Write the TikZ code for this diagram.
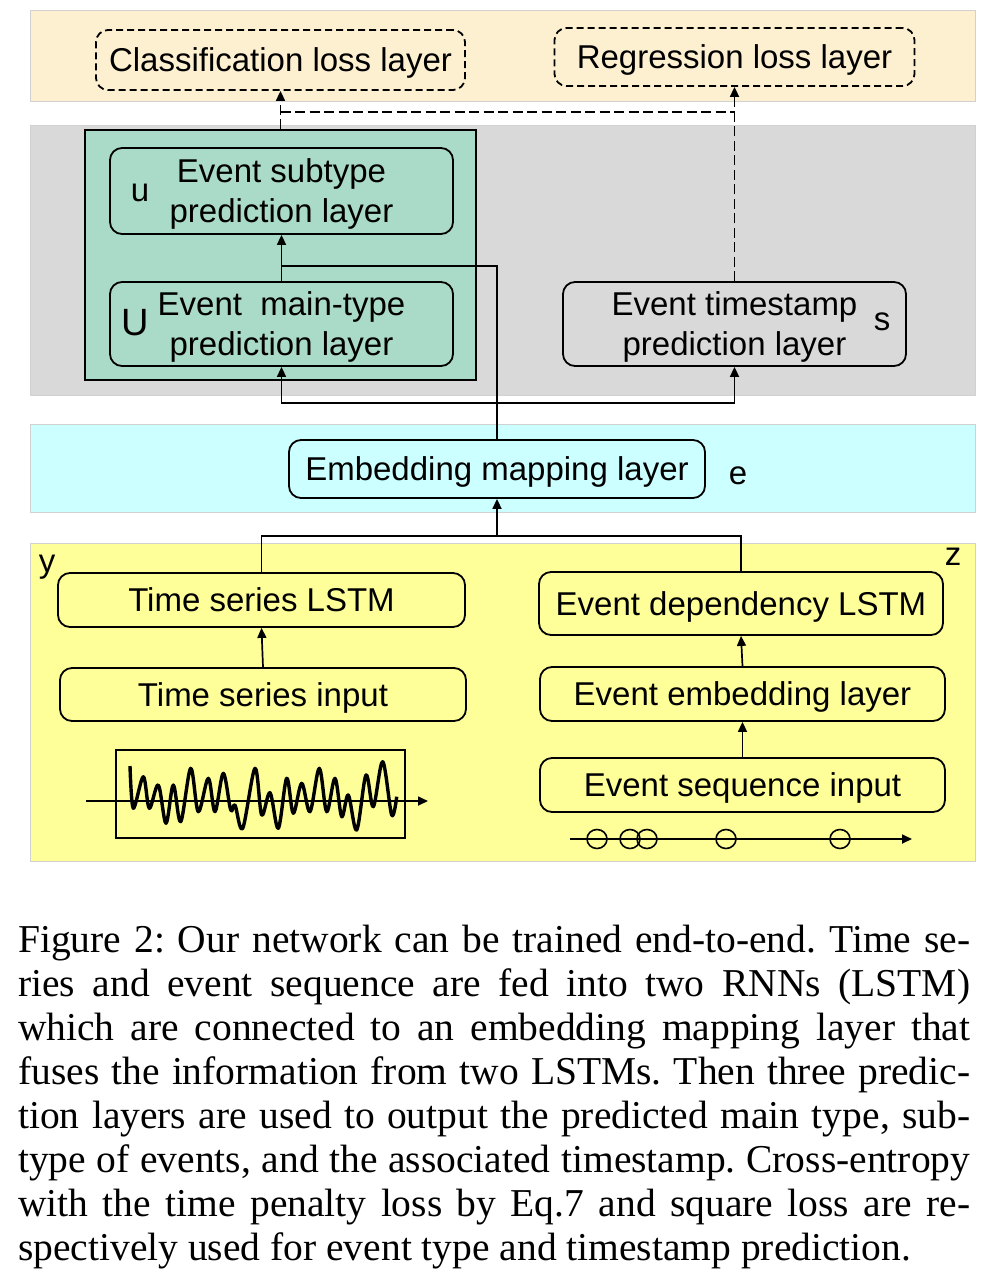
\documentclass[tikz,border=0pt]{standalone}
\usepackage{fontspec}
\setmainfont{Liberation Sans}
\newfontfamily\capfont{Liberation Serif}
\usetikzlibrary{arrows.meta}
\frenchspacing
\definecolor{beigeband}{RGB}{253,240,208}
\definecolor{grayband}{RGB}{217,217,217}
\definecolor{cyanband}{RGB}{204,255,255}
\definecolor{yellowband}{RGB}{255,255,153}
\definecolor{greenbox}{RGB}{170,218,200}
\newcommand\diagfont{\fontsize{33}{40}\selectfont}
\newcommand\captionfont{\capfont\fontsize{39.5}{44}\selectfont\frenchspacing}
\begin{document}
\begin{tikzpicture}[x=1pt,y=-1pt,
  band/.style={draw=black!18, line width=0.8pt},
  layerbox/.style={draw, line width=1.8pt, rounded corners=12pt, inner sep=0pt, align=center, font=\diagfont, text depth=0pt},
  lossbox/.style={layerbox, dash pattern=on 7pt off 4pt},
  wire/.style={line width=1.7pt},
  conn/.style={wire, -{Triangle[length=10pt,width=9pt]}},
  dconn/.style={conn, dash pattern=on 10pt off 4.5pt},
  dwire/.style={wire, dash pattern=on 10pt off 4.5pt},
  lbl/.style={inner sep=0pt, font=\diagfont},
  capline/.style={anchor=base west, inner sep=0pt, font=\captionfont}
]
\useasboundingbox (0,0) rectangle (992,1280);
\fill[white] (0,0) rectangle (992,1280);

% bands
\filldraw[band, fill=beigeband] (30,10) rectangle (975,101);
\filldraw[band, fill=grayband] (30,125) rectangle (975,395);
\filldraw[band, fill=cyanband] (30,424) rectangle (975,512);
\filldraw[band, fill=yellowband] (30,543) rectangle (975,861);

% loss layers
\node[lossbox, minimum width=369pt, minimum height=60pt] (cls) at (280.5,60) {Classification loss layer};
\node[lossbox, minimum width=360pt, minimum height=58pt] (reg) at (734.5,57) {Regression loss layer};

% prediction group
\node[draw, line width=1.8pt, fill=greenbox, inner sep=0pt, minimum width=391pt, minimum height=250pt] (grp) at (280.5,255) {};
\node[layerbox, minimum width=343pt, minimum height=86pt] (sub) at (281.5,191) {Event subtype\\prediction layer};
\node[layerbox, minimum width=343pt, minimum height=84pt] (main) at (281.5,324) {Event\ \ main-type\\prediction layer};
\node[layerbox, minimum width=343pt, minimum height=84pt] (ts) at (734.5,324) {Event timestamp\\prediction layer};
\node[lbl] (lu) at (140,193) {u};
\node[lbl, font=\fontsize{38}{40}\selectfont] (lU) at (135,323) {U};
\node[lbl] (ls) at (882,322) {s};

% embedding
\node[layerbox, minimum width=416pt, minimum height=58pt] (emb) at (497,469) {Embedding mapping layer};
\node[lbl] (le) at (738,476) {e};

% LSTMs
\node[layerbox, minimum width=407pt, minimum height=54pt] (tsl) at (261.5,600) {Time series LSTM};
\node[layerbox, minimum width=406pt, minimum height=53pt] (tsi) at (263,694.5) {Time series input};
\node[layerbox, minimum width=404pt, minimum height=63pt] (edl) at (741,603.5) {Event dependency LSTM};
\node[layerbox, minimum width=405pt, minimum height=54pt] (eel) at (742.5,694) {Event embedding layer};
\node[layerbox, minimum width=405pt, minimum height=54pt] (esi) at (742.5,785) {Event sequence input};
\node[lbl] (ly) at (47,567) {y};
\node[lbl] (lz) at (953,557) {z};

% connectors bottom
\coordinate (j1) at (497,536);
\draw[wire] (tsl.north) |- (j1) -| (edl.north);
\draw[conn] (j1) -- (emb.south);
\draw[conn] (tsi.north) -- (tsl.south);
\draw[conn] (eel.north) -- (edl.south);
\draw[conn] (esi.north) -- (eel.south);

% connectors middle
\coordinate (j2) at (281.5,266);
\coordinate (j3) at (497,403);
\draw[wire] (emb.north) |- (j2);
\draw[conn] (main.north) -- (sub.south);
\draw[conn] (j3) -| (main.south);
\draw[conn] (j3) -| (ts.south);

% dashed connectors
\coordinate (j4) at (280.5,112);
\draw[dconn] (grp.north) -- (cls.south);
\draw[dwire] (j4) -- (ts.north |- j4);
\draw[dconn] (ts.north) -- (reg.south);

% time series picture
\node[draw, line width=1.8pt, inner sep=0pt, minimum width=289pt, minimum height=88pt] (wbox) at (260.5,794) {};
\coordinate (wa) at (86,801);
\coordinate (wb) at (428,801);
\draw[conn] (wa) -- (wb);
\draw[line width=3.4pt, line join=round] plot[smooth, tension=0.55] coordinates {
 (130,766) (133.3,808.3) (143.3,776.7) (149.3,808.3) (158.3,785) (166,823.3)
 (173.3,785) (180.7,821.7) (190.7,768.3) (198.3,811.7) (208.3,778.3) (215,811.7)
 (223.3,773.3) (230.7,810) (235,805) (242.7,828.3) (255,768.3) (261.7,815)
 (270,792.7) (278.3,828.3) (286.7,778.3) (293.3,813.3) (301.7,783.3) (310,811.7)
 (319.3,768.3) (326.7,811.7) (335,778.3) (341.7,816.7) (348.3,795) (356.7,830)
 (366,775) (373.3,806.7) (382.7,761.7) (391.7,815) (396.7,796.7)};

% event sequence picture
\coordinate (ea) at (570,839);
\coordinate (eb) at (912,839);
\draw[conn] (ea) -- (eb);
\foreach \cx in {597,630,647,726,840}
  \draw[line width=1.6pt] (\cx,839) ellipse [x radius=10pt, y radius=9.5pt];

% caption
\node[capline] (c1) at (18,952) {\makebox[952pt][s]{Figure 2: Our network can be trained end-to-end. Time se-}};
\node[capline] (c2) at (18,996) {\makebox[952pt][s]{ries and event sequence are fed into two RNNs (LSTM)}};
\node[capline] (c3) at (18,1040) {\makebox[952pt][s]{which are connected to an embedding mapping layer that}};
\node[capline] (c4) at (18,1084) {\makebox[952pt][s]{fuses the information from two LSTMs. Then three predic-}};
\node[capline] (c5) at (18,1128) {\makebox[952pt][s]{tion layers are used to output the predicted main type, sub-}};
\node[capline] (c6) at (18,1172) {\makebox[952pt][s]{type of events, and the associated timestamp. Cross-entropy}};
\node[capline] (c7) at (18,1216) {\makebox[952pt][s]{with the time penalty loss by Eq.7 and square loss are re-}};
\node[capline] (c8) at (18,1260) {spectively used for event type and timestamp prediction.};
\end{tikzpicture}
\end{document}
